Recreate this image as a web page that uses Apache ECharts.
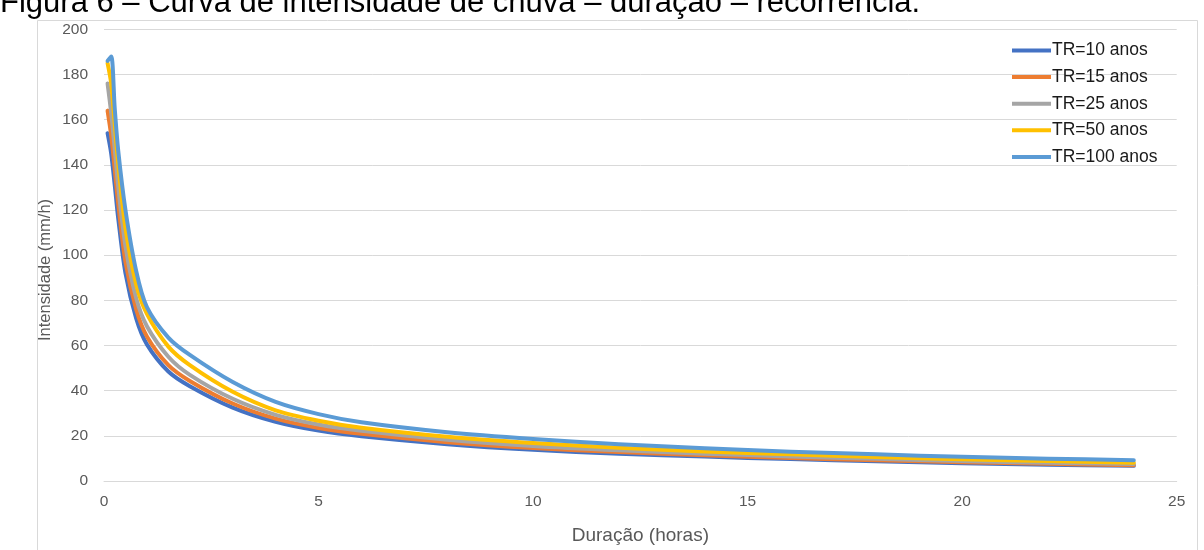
<!DOCTYPE html>
<html>
<head>
<meta charset="utf-8">
<script src="https://cdn.jsdelivr.net/npm/echarts@6/dist/echarts.min.js"></script>
<style>
html,body{margin:0;padding:0;background:#fff;}
#chart{width:1204px;height:550px;}
</style>
</head>
<body>
<div id="chart"></div>
<script>
const titleText = "Figura 6 – Curva de intensidade de chuva – duração – recorrência.";
const seriesNames = ["TR=10 anos", "TR=15 anos", "TR=25 anos", "TR=50 anos", "TR=100 anos"];
const durations = [0.083, 0.167, 0.25, 0.333, 0.5, 0.75, 1, 1.5, 2, 3, 4, 5, 6, 8, 10, 12, 14, 16, 18, 20, 22, 24];
const tr10  = [154, 145, 131, 116, 92, 72, 60.5, 48.5, 42, 32.5, 26.2, 22.3, 19.8, 16.3, 13.8, 12.1, 10.8, 9.7, 8.7, 7.9, 7.2, 6.7];
const tr15  = [164, 153, 138, 122.5, 97, 76, 64, 51.3, 44.3, 34.3, 27.6, 23.5, 20.9, 17.2, 14.6, 12.8, 11.4, 10.2, 9.2, 8.3, 7.6, 7.0];
const tr25  = [176, 163, 147, 130, 104, 81, 68.5, 55, 47, 36.4, 29.3, 25, 22.2, 18.3, 15.5, 13.6, 12.1, 10.9, 9.8, 8.8, 8.1, 7.5];
const tr50  = [185, 176, 158, 140, 112, 87, 74, 59.5, 51.3, 39.5, 31.3, 26.7, 23.6, 19.6, 16.8, 14.7, 13.1, 11.8, 10.6, 9.6, 8.8, 8.1];
const tr100 = [186, 188, 165, 146, 120, 93, 77, 63.5, 55.8, 43.8, 35, 29.6, 26, 21.6, 18.6, 16.3, 14.5, 13.0, 11.8, 10.7, 9.9, 9.2];
const xAxisName = "Duração (horas)";
const yAxisName = "Intensidade (mm/h)";
const colors = ["#4472C4", "#ED7D31", "#A5A5A5", "#FFC000", "#5B9BD5"];

const allValues = [tr10, tr15, tr25, tr50, tr100];
const font = "Liberation Sans, Arial, sans-serif";

const chart = echarts.init(document.getElementById('chart'), null, {renderer: 'canvas'});
chart.setOption({
  animation: false,
  backgroundColor: '#fff',
  title: {
    text: titleText,
    left: 0,
    top: -12,
    padding: 0,
    textStyle: {fontFamily: font, fontSize: 31, fontWeight: 'normal', color: '#000'}
  },
  graphic: [{
    type: 'rect',
    shape: {x: 37.5, y: 20.5, width: 1160, height: 545},
    style: {fill: 'none', stroke: '#d9d9d9', lineWidth: 1},
    silent: true, z: -1
  }, {
    type: 'text',
    x: 45, y: 270,
    rotation: Math.PI / 2,
    style: {text: yAxisName, fontFamily: font, fontSize: 16.5, fill: '#595959', align: 'center', verticalAlign: 'middle'},
    silent: true
  }],
  legend: {
    orient: 'vertical',
    left: 1012,
    top: 41.5,
    padding: 0,
    itemWidth: 39,
    itemHeight: 4,
    itemGap: 8.6,
    icon: 'rect',
    textStyle: {fontFamily: font, fontSize: 17.5, color: '#1a1a1a', lineHeight: 17, padding: [0, 0, 0, -4]},
    data: seriesNames
  },
  grid: {left: 104, right: 27.3, top: 29.3, bottom: 65, containLabel: false},
  xAxis: {
    type: 'value',
    min: 0, max: 25, interval: 5,
    name: xAxisName,
    nameLocation: 'middle',
    nameGap: 45,
    nameTextStyle: {fontFamily: font, fontSize: 19, color: '#595959'},
    axisLine: {show: true, lineStyle: {color: '#d9d9d9', width: 1}},
    axisTick: {show: false},
    splitLine: {show: false},
    axisLabel: {fontFamily: font, fontSize: 15.5, color: '#595959', margin: 13}
  },
  yAxis: {
    type: 'value',
    min: 0, max: 200, interval: 20,
    axisLine: {show: false},
    axisTick: {show: false},
    splitLine: {show: true, lineStyle: {color: '#d9d9d9', width: 1}},
    axisLabel: {fontFamily: font, fontSize: 15.5, color: '#595959', margin: 16}
  },
  series: seriesNames.map((name, i) => ({
    name: name,
    type: 'line',
    data: durations.map((d, k) => [d, allValues[i][k]]),
    smooth: 0.3,
    symbol: 'none',
    lineStyle: {width: 4, color: colors[i], cap: 'round', join: 'round'},
    itemStyle: {color: colors[i]},
    z: 2 + i
  }))
});
</script>
</body>
</html>
